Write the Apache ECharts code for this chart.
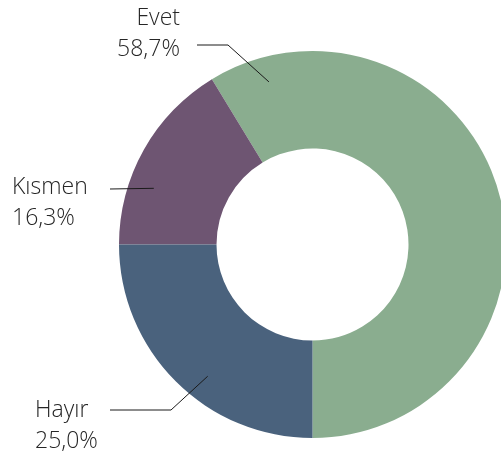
<!DOCTYPE html>
<html>
<head>
<meta charset="utf-8">
<script src="https://cdn.jsdelivr.net/npm/echarts@6/dist/echarts.min.js"></script>
<style>
  html, body { margin: 0; padding: 0; background: #fff; }
  #chart { width: 501px; height: 454px; }
</style>
</head>
<body>
<div id="chart"></div>
<script>
// kategoriler ve yüzdeler
const categories = ['Evet', 'Kısmen', 'Hayır'];
const shares = [58.7, 16.3, 25.0];
const colors = ['#8aad8f', '#6e5572', '#4a627d'];

// pasta geometrisi
const cx = 312.5, cy = 244.5, rIn = 96, rOut = 193.5;

// etiket yerleşimi: yazı noktası, hizalama, çizgi açısı, dirsek
const labelSpots = [
  { x: 180, y: 3,   align: 'right', angle: 105, elbow: [228, 45], end: [197, 45] },
  { x: 12,  y: 172, align: 'left',  angle: 160.5, elbow: null, end: [110, 189] },
  { x: 35,  y: 395, align: 'left',  angle: 231.5, elbow: [171, 410], end: [110, 410] }
];

function fmtPct(v) {
  return v.toFixed(1).replace('.', ',') + '%';
}

const pieData = categories.map((c, i) => ({ name: c, value: shares[i] }));

const chart = echarts.init(document.getElementById('chart'));

chart.setOption({
  animation: false,
  color: colors,
  series: [{
    // dilimler
    type: 'pie',
    z: 2,
    center: [cx, cy],
    radius: [rIn, rOut],
    startAngle: 270,
    clockwise: false,
    silent: true,
    label: { show: false },
    labelLine: { show: false },
    data: pieData
  }, {
    // etiketler ve çizgiler, dilimlerin üstünde
    type: 'pie',
    z: 3,
    center: [cx, cy],
    radius: [rIn, rOut],
    startAngle: 270,
    clockwise: false,
    silent: true,
    avoidLabelOverlap: false,
    itemStyle: { color: 'rgba(0,0,0,0)' },
    data: pieData,
    label: {
      show: true,
      position: 'outside',
      alignTo: 'none',
      formatter: p => p.name + '\n' + fmtPct(p.value),
      fontFamily: 'Open Sans',
      fontWeight: 300,
      fontSize: 23,
      lineHeight: 31,
      color: '#262626'
    },
    labelLine: {
      show: true,
      lineStyle: { color: '#1a1a1a', width: 1 }
    },
    labelLayout: function (params) {
      const s = labelSpots[params.dataIndex];
      const a = s.angle * Math.PI / 180;
      const start = [cx + 0.87 * rOut * Math.cos(a), cy - 0.87 * rOut * Math.sin(a)];
      const pts = s.elbow ? [start, s.elbow, s.end] : [start, s.end];
      return {
        x: s.x,
        y: s.y,
        align: s.align,
        verticalAlign: 'top',
        labelLinePoints: pts
      };
    }
  }]
});
</script>
</body>
</html>
